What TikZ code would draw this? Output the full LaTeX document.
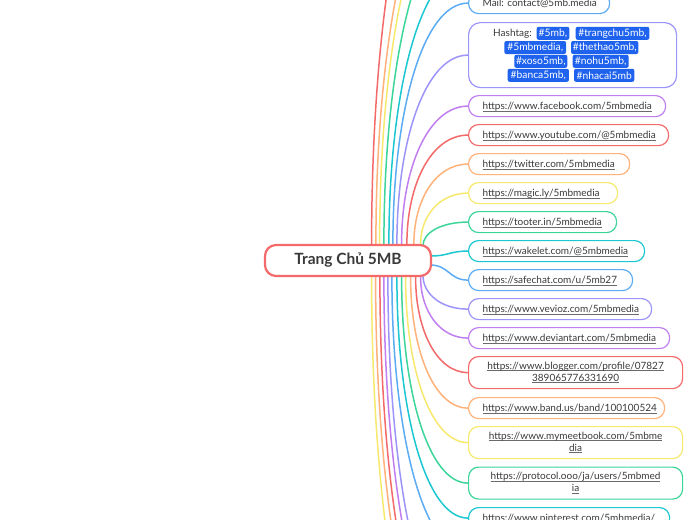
\documentclass[tikz,border=0pt]{standalone}
\usepackage{fontspec}
\setmainfont{Lato}
\frenchspacing
\usetikzlibrary{calc,backgrounds}
\definecolor{cRed}{HTML}{F46A6A}
\definecolor{cOrange}{HTML}{FFB27A}
\definecolor{cYellow}{HTML}{F7E96E}
\definecolor{cGreen}{HTML}{3CD59A}
\definecolor{cTeal}{HTML}{1BC8D2}
\definecolor{cBlue}{HTML}{5BACF4}
\definecolor{cPeri}{HTML}{9D94FA}
\definecolor{cPurple}{HTML}{C17EF0}
\definecolor{cBadge}{HTML}{1E62EE}
\definecolor{txt}{HTML}{3A3A3A}
\definecolor{ulc}{HTML}{6A6A6A}
\newcommand\brV[3]{\draw[br,draw=#1] let \p1=(#2), \p2=(#3) in (\p1) .. controls (\x1,{\y1+0.55*(\y2-\y1)}) and ({\x2-0.6*(\x2-\x1)},\y2) .. (\p2);}
\newcommand\brH[3]{\draw[br,draw=#1] let \p1=(#2), \p2=(#3) in (\p1) .. controls ({\x1+0.5*(\x2-\x1)},\y1) and ({\x2-0.5*(\x2-\x1)},\y2) .. (\p2);}
\newcommand\ulk[1]{\leavevmode\setbox0\hbox{#1}\rlap{\color{ulc}\rule[-1.6pt]{\wd0}{0.6pt}}\box0}
\begin{document}
\begin{tikzpicture}[x=1pt,y=-1pt,
  br/.style={line width=1.5pt,line cap=round},
  leaf/.style={draw=#1,line width=1.2pt,rounded corners=10pt,fill=white,anchor=north west,
    minimum height=21pt,inner xsep=14pt,inner ysep=0pt,text=txt,
    font=\fontsize{10}{12}\selectfont,align=left,text height=7.6pt,text depth=0pt},
  leaftwo/.style={draw=#1,line width=1.2pt,rounded corners=10pt,fill=white,anchor=north west,
    minimum height=32pt,inner xsep=14pt,inner ysep=0pt,text=txt,
    font=\fontsize{10}{12}\selectfont,align=center},
  badge/.style={fill=cBadge,text=white,rounded corners=2pt,inner xsep=1pt,inner ysep=0pt,
    minimum height=13pt,font=\fontsize{10.3}{11}\selectfont},
  centre/.style={draw=cRed,line width=2.2pt,rounded corners=11pt,fill=white,
    minimum width=166pt,minimum height=31pt,text=txt,font=\fontsize{15.5}{18}\selectfont\bfseries}]
\useasboundingbox (0,0) rectangle (697,520);
\clip (0,0) rectangle (697,520);

\node[centre] (cn) at (348,260.5) {Trang Chủ 5MB};

\node[leaf=cBlue,text width=113pt] (mail) at (468,-8) {\mbox{Mail: contact@5mb.media}};
\node[leaf=cPeri,minimum width=208pt,minimum height=65pt,rounded corners=12pt,text height=,text depth=] (hash) at (468,22) {};
\node[text=txt,font=\fontsize{10}{11}\selectfont,inner sep=0pt] (hl) at (512.5,33.3) {Hashtag:};
\node[badge,minimum width=32.6pt] (h1) at (553,33.3) {\#5mb,};
\node[badge,minimum width=73.6pt] (h2) at (612.5,33.3) {\#trangchu5mb,};
\node[badge,minimum width=61.7pt] (h3) at (535.2,47.5) {\#5mbmedia,};
\node[badge,minimum width=67.3pt] (h4) at (604.7,47.5) {\#thethao5mb,};
\node[badge,minimum width=53pt] (h5) at (540.8,61.3) {\#xoso5mb,};
\node[badge,minimum width=56pt] (h6) at (600.7,61.3) {\#nohu5mb,};
\node[badge,minimum width=61.3pt] (h7) at (538.3,75.3) {\#banca5mb,};
\node[badge,minimum width=60.3pt] (h8) at (604.2,75.3) {\#nhacai5mb};

\node[leaf=cPurple,text width=169pt] (fb) at (468,95) {\ulk{https://www.facebook.com/5mbmedia}};
\node[leaf=cRed,text width=172pt] (yt) at (468,124) {\ulk{https://www.youtube.com/@5mbmedia}};
\node[leaf=cOrange,text width=133pt] (tw) at (468,153) {\ulk{https://twitter.com/5mbmedia}};
\node[leaf=cYellow,text width=121pt] (mg) at (468,182) {\ulk{https://magic.ly/5mbmedia}};
\node[leaf=cGreen,text width=120pt] (to) at (468,211) {\ulk{https://tooter.in/5mbmedia}};
\node[leaf=cTeal,text width=148pt] (wk) at (468,240) {\ulk{https://wakelet.com/@5mbmedia}};
\node[leaf=cBlue,text width=136pt] (sc) at (468,269) {\ulk{https://safechat.com/u/5mb27}};
\node[leaf=cPeri,text width=155pt] (vv) at (468,298) {\ulk{https://www.vevioz.com/5mbmedia}};
\node[leaf=cPurple,text width=173pt] (da) at (468,327) {\ulk{https://www.deviantart.com/5mbmedia}};
\node[leaftwo=cRed,text width=186pt] (bl) at (468,356) {\ulk{https://www.blogger.com/profile/07827}\\\ulk{389065776331690}};
\node[leaf=cOrange,text width=168pt] (bd) at (468,397) {\ulk{https://www.band.us/band/100100524}};
\node[leaftwo=cYellow,text width=186pt] (mm) at (468,426) {\ulk{https://www.mymeetbook.com/5mbme}\\\ulk{dia}};
\node[leaftwo=cGreen,text width=186pt] (pr) at (468,466.5) {\ulk{https://protocol.ooo/ja/users/5mbmed}\\\ulk{ia}};
\node[leaf=cTeal,text width=173pt] (pi) at (468,507) {\ulk{https://www.pinterest.com/5mbmedia/}};

\coordinate (u1) at (468,-204);
\coordinate (u2) at (468,-141);
\coordinate (u3) at (468,-121);
\coordinate (u4) at (468,-82);
\coordinate (u5) at (468,-32);
\coordinate (d1) at (468,554);
\coordinate (d2) at (468,636);
\coordinate (d3) at (468,660);
\coordinate (d4) at (468,688);
\coordinate (d5) at (468,705);
\coordinate (d6) at (468,740);

\begin{scope}[on background layer]
\fill[white] (0,0) rectangle (697,520);
\brV{cRed}{[shift={(107.7,0)}]cn.north west}{u1}
\brV{cOrange}{[shift={(112,0)}]cn.north west}{u2}
\brV{cYellow}{[shift={(115.7,0)}]cn.north west}{u3}
\brV{cGreen}{[shift={(120,0)}]cn.north west}{u4}
\brV{cTeal}{[shift={(125,0)}]cn.north west}{u5}
\brV{cBlue}{[shift={(129,0)}]cn.north west}{mail.west}
\brV{cPeri}{[shift={(133,0)}]cn.north west}{hash.west}
\brV{cPurple}{[shift={(137.7,0)}]cn.north west}{fb.west}
\brV{cRed}{[shift={(143,0)}]cn.north west}{yt.west}
\brV{cOrange}{[shift={(150,0)}]cn.north west}{tw.west}
\brV{cYellow}{[shift={(156.7,0)}]cn.north west}{mg.west}
\brV{cGreen}{[shift={(159,2)}]cn.north west}{to.west}
\brH{cTeal}{[shift={(-2,-4.5)}]cn.east}{wk.west}
\brH{cBlue}{[shift={(-2,4.5)}]cn.east}{sc.west}
\brV{cPeri}{[shift={(159,-2)}]cn.south west}{vv.west}
\brV{cPurple}{[shift={(156.7,0)}]cn.south west}{da.west}
\brV{cRed}{[shift={(151.7,0)}]cn.south west}{bl.west}
\brV{cOrange}{[shift={(146.7,0)}]cn.south west}{bd.west}
\brV{cYellow}{[shift={(141.7,0)}]cn.south west}{mm.west}
\brV{cGreen}{[shift={(137.7,0)}]cn.south west}{pr.west}
\brV{cTeal}{[shift={(133,0)}]cn.south west}{pi.west}
\brV{cBlue}{[shift={(128,0)}]cn.south west}{d1}
\brV{cPeri}{[shift={(124,0)}]cn.south west}{d2}
\brV{cPurple}{[shift={(120,0)}]cn.south west}{d3}
\brV{cRed}{[shift={(116,0)}]cn.south west}{d4}
\brV{cOrange}{[shift={(111.7,0)}]cn.south west}{d5}
\brV{cYellow}{[shift={(107.7,0)}]cn.south west}{d6}
\end{scope}
\end{tikzpicture}
\end{document}
